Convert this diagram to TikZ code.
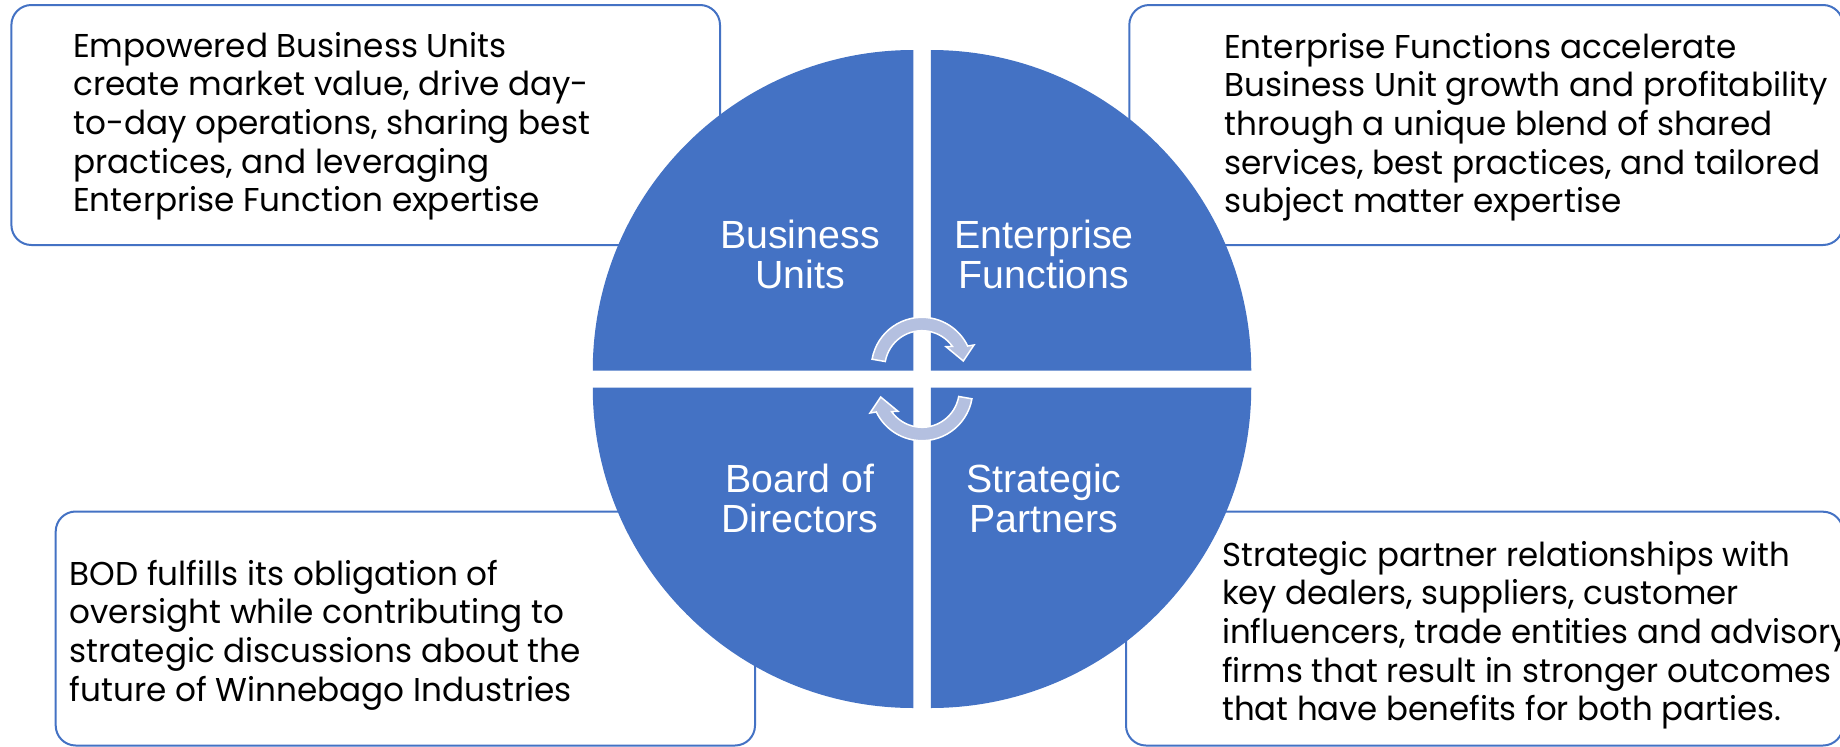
\documentclass[tikz,border=0pt]{standalone}
\usepackage{fontspec}
\setmainfont{Poppins}[Ligatures=NoCommon, FakeStretch=0.99]
\newfontfamily\narrowfont{Poppins}[Ligatures=NoCommon, FakeStretch=0.982]
\newfontfamily\labelfont{Liberation Sans}
\definecolor{qblue}{HTML}{4472C4}
\definecolor{arrowfill}{RGB}{180,192,224}
\newcommand\mytopstrut{\rule{0pt}{30pt}}
\newcommand\mylabstrut{\rule{0pt}{32pt}}
\begin{document}
\begin{tikzpicture}[x=1pt,y=-1pt,
  descbox/.style={draw=qblue, line width=2pt, rounded corners=20pt},
  quad/.style={fill=qblue, draw=none},
  desc/.style={anchor=north west, inner sep=0pt, align=left, text=black,
    font=\fontsize{33}{38.6}\selectfont},
  qlabel/.style={anchor=north, inner sep=0pt, align=center, text=white,
    font=\labelfont\fontsize{39.3}{40.7}\selectfont},
  cyc/.style={fill=arrowfill, draw=white, line width=1.5pt}]
\useasboundingbox (0,0) rectangle (1840,747);
\clip (0,0) rectangle (1840,747);
\fill[white] (0,0) rectangle (1840,747);

% description boxes
\draw[descbox] (11.4,5) rectangle (720,245);
\draw[descbox] (1129.3,5) rectangle (1843,245);
\draw[descbox] (55.7,511.5) rectangle (755,745.5);
\draw[descbox] (1126,511.7) rectangle (1843,745.5);

% description texts
\node[desc] (tltext) at (73,27) {\mytopstrut Empowered Business Units\\create market value, drive day-\\to-day operations, sharing best\\practices, and leveraging\\Enterprise Function expertise};
\node[desc] (trtext) at (1224,28) {\mytopstrut Enterprise Functions accelerate\\Business Unit growth and profitability\\through a unique blend of shared\\services, best practices, and tailored\\subject matter expertise};
\node[desc] (bltext) at (69.5,555) {\mytopstrut BOD fulfills its obligation of\\oversight while contributing to\\strategic discussions about the\\future of Winnebago Industries};
\node[desc, font=\narrowfont\fontsize{33}{38.6}\selectfont] (brtext) at (1222,536) {\mytopstrut Strategic partner relationships with\\key dealers, suppliers, customer\\influencers, trade entities and advisory\\firms that result in stronger outcomes\\that have benefits for both parties.};

% quadrants
\fill[quad] (913.25,370.5) -- (592.75,370.5) arc[start angle=180, end angle=270, radius=320.5] -- cycle;
\fill[quad] (930.75,370.5) -- (930.75,50) arc[start angle=270, end angle=360, radius=320.5] -- cycle;
\fill[quad] (930.75,387.5) -- (1251.25,387.5) arc[start angle=0, end angle=90, radius=320.5] -- cycle;
\fill[quad] (913.25,387.5) -- (913.25,708) arc[start angle=90, end angle=180, radius=320.5] -- cycle;

% quadrant labels
\node[qlabel] (bu) at (800,216) {\mylabstrut Business\\Units};
\node[qlabel] (ef) at (1044,216) {\mylabstrut Enterprise\\Functions};
\node[qlabel] (bod) at (800,460) {\mylabstrut Board of\\Directors};
\node[qlabel] (sp) at (1044,460) {\mylabstrut Strategic\\Partners};

% cycle arrows
\begin{scope}[shift={(922,368)}]
\path[cyc] (190:37.3) -- (190:50.7) arc[start angle=190, end angle=334.3, radius=50.7]
  -- (52,-23) -- (41.3,-7) -- (24,-21.3) -- (324.6:37.3)
  arc[start angle=324.6, end angle=190, radius=37.3] -- cycle;
\end{scope}
\begin{scope}[shift={(922,390)}, rotate=180]
\path[cyc] (190:37.3) -- (190:50.7) arc[start angle=190, end angle=334.3, radius=50.7]
  -- (52,-23) -- (41.3,-7) -- (24,-21.3) -- (324.6:37.3)
  arc[start angle=324.6, end angle=190, radius=37.3] -- cycle;
\end{scope}
\end{tikzpicture}
\end{document}
